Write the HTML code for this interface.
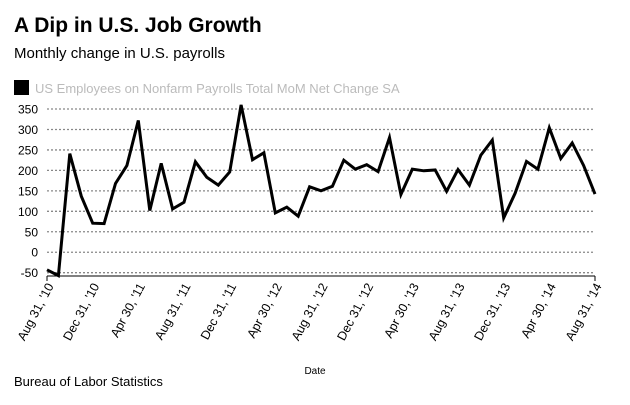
<!DOCTYPE html>
<html><head><meta charset="utf-8"><style>
body{margin:0;background:#fff;font-family:"Liberation Sans",sans-serif}
</style></head><body>
<svg width="630" height="400" xmlns="http://www.w3.org/2000/svg" font-family="Liberation Sans, sans-serif">
<text x="14" y="32" font-size="21" font-weight="bold">A Dip in U.S. Job Growth</text>
<text x="14" y="58" font-size="15">Monthly change in U.S. payrolls</text>
<rect x="14" y="80" width="15" height="15" fill="#000"/>
<text x="35" y="93" font-size="13" fill="#bbb">US Employees on Nonfarm Payrolls Total MoM Net Change SA</text>
<g id="grid"></g><g id="ylab"></g><g id="xlab"></g>
<line x1="47" y1="276" x2="595" y2="276" stroke="#000"/>
<line x1="47" y1="276" x2="47" y2="281" stroke="#000"/>
<line x1="595" y1="276" x2="595" y2="281" stroke="#000"/>
<path id="line" fill="none" stroke="#000" stroke-width="3" stroke-linejoin="miter"/>
<text x="315" y="374" font-size="10" text-anchor="middle">Date</text>
<text x="14" y="386" font-size="13">Bureau of Labor Statistics</text>
</svg>
<script>
const values=[-43,-57,241,137,71,70,168,212,322,102,217,106,122,221,183,164,196,360,226,243,96,110,88,160,150,161,225,203,214,197,280,141,203,199,201,149,202,164,237,274,84,144,222,203,304,229,267,212,142];
const yTicks=[350,300,250,200,150,100,50,0,-50];
const xTickLabels=["Aug 31, '10","Dec 31, '10","Apr 30, '11","Aug 31, '11","Dec 31, '11","Apr 30, '12","Aug 31, '12","Dec 31, '12","Apr 30, '13","Aug 31, '13","Dec 31, '13","Apr 30, '14","Aug 31, '14"];
const NS="http://www.w3.org/2000/svg";
const x0=47,x1=595,yTop=109,yBot=272.7,vTop=350,vBot=-50;
const xs=i=>x0+(x1-x0)*i/(values.length-1);
const ys=v=>yTop+(vTop-v)*(yBot-yTop)/(vTop-vBot);
const g=document.getElementById('grid'),yl=document.getElementById('ylab'),xl=document.getElementById('xlab');
yTicks.forEach(t=>{
 const l=document.createElementNS(NS,'line');
 l.setAttribute('x1',x0);l.setAttribute('x2',x1);l.setAttribute('y1',ys(t));l.setAttribute('y2',ys(t));
 l.setAttribute('stroke','#888');l.setAttribute('stroke-width','1.3');l.setAttribute('stroke-dasharray','2,2');
 
 
 g.appendChild(l);
 const tx=document.createElementNS(NS,'text');
 tx.setAttribute('x',38);tx.setAttribute('y',ys(t)+4.5);tx.setAttribute('text-anchor','end');tx.setAttribute('font-size','12');
 tx.textContent=t;
 
 
 yl.appendChild(tx);
});
xTickLabels.forEach((s,k)=>{
 const x=xs(k*4)+7,y=286;
 const tx=document.createElementNS(NS,'text');
 tx.setAttribute('x',x);tx.setAttribute('y',y);tx.setAttribute('text-anchor','end');tx.setAttribute('font-size','12.5');
 tx.setAttribute('transform','rotate(-62 '+x+' '+y+')');
 tx.textContent=s;
 
 
 xl.appendChild(tx);
});
document.getElementById('line').setAttribute('d',values.map((v,i)=>(i?'L':'M')+xs(i).toFixed(1)+','+ys(v).toFixed(1)).join(''));
</script>
</body></html>
